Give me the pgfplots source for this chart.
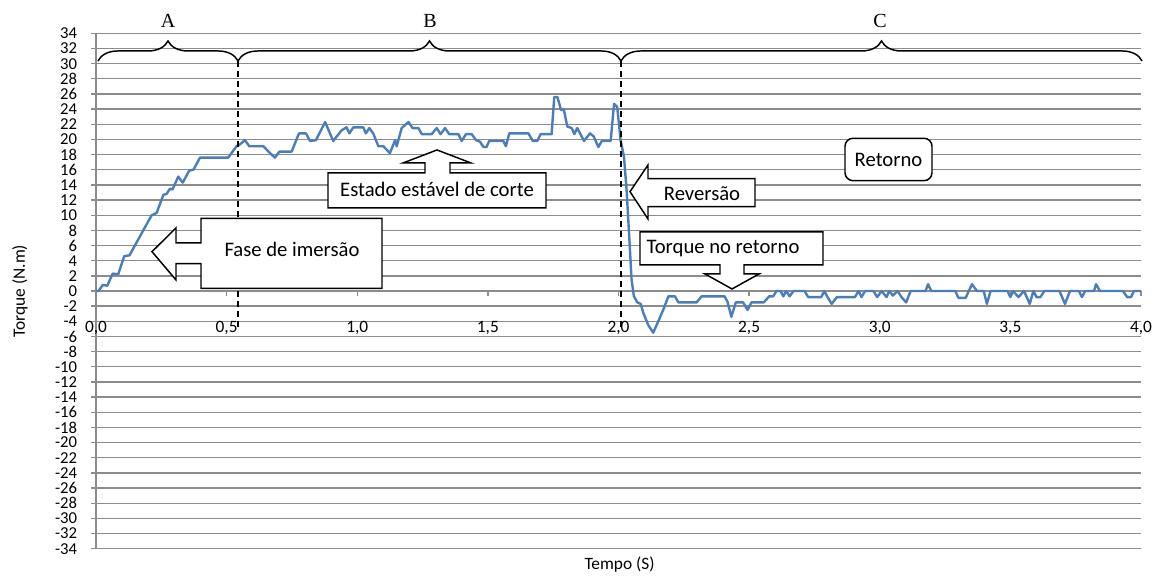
\documentclass[border=0pt]{standalone}
\usepackage{fontspec}
\setmainfont{Carlito}
\newfontfamily\timesf{Liberation Serif}
\usepackage{pgfplots}
\pgfplotsset{compat=1.18}
\usetikzlibrary{decorations.pathreplacing}
\definecolor{gridgray}{HTML}{8C8C8C}
\definecolor{excelblue}{HTML}{4A7EBB}

\pgfplotstableread{
t v
0.000 0.0
0.010 0.0
0.026 0.8
0.043 0.7
0.064 2.3
0.085 2.2
0.108 4.6
0.128 4.7
0.213 10.0
0.232 10.3
0.258 12.7
0.270 12.8
0.283 13.5
0.293 13.4
0.315 15.1
0.332 14.3
0.357 15.9
0.373 16.0
0.398 17.6
0.506 17.6
0.538 19.1
0.549 19.3
0.570 19.9
0.587 19.1
0.641 19.1
0.660 18.4
0.685 17.6
0.702 18.4
0.749 18.4
0.777 20.8
0.804 20.8
0.819 19.8
0.842 19.9
0.877 22.3
0.908 19.8
0.940 21.2
0.959 21.6
0.970 20.8
0.985 21.6
1.023 21.6
1.033 20.8
1.046 21.5
1.061 20.8
1.081 19.1
1.100 19.1
1.125 18.2
1.145 19.9
1.151 19.1
1.170 21.5
1.196 22.3
1.212 21.5
1.234 21.5
1.247 20.7
1.285 20.7
1.304 21.5
1.319 20.7
1.336 21.5
1.352 20.7
1.387 20.7
1.400 19.8
1.416 20.7
1.438 20.7
1.455 19.9
1.470 19.7
1.483 19.0
1.495 19.0
1.505 19.8
1.559 19.8
1.569 19.1
1.582 20.8
1.655 20.8
1.672 19.8
1.689 19.8
1.702 20.7
1.744 20.7
1.754 25.6
1.766 25.6
1.780 23.9
1.791 23.9
1.804 21.7
1.821 21.5
1.831 20.7
1.842 21.5
1.868 19.8
1.891 20.8
1.905 20.4
1.923 19.0
1.936 19.8
1.970 19.8
1.983 24.7
1.995 24.3
2.008 19.9
2.021 17.7
2.031 13.3
2.041 7.2
2.050 1.5
2.059 -0.7
2.072 -1.5
2.085 -1.7
2.095 -2.9
2.114 -4.5
2.133 -5.5
2.156 -3.7
2.171 -2.5
2.191 -0.7
2.216 -0.7
2.229 -1.5
2.299 -1.5
2.318 -0.7
2.406 -0.7
2.417 -1.4
2.432 -3.4
2.449 -1.5
2.477 -1.5
2.494 -2.5
2.509 -1.5
2.556 -1.5
2.577 -0.7
2.592 -0.7
2.605 0
2.620 0
2.631 -0.7
2.642 0
2.655 -0.7
2.670 0
2.712 0
2.726 -0.8
2.776 -0.8
2.788 0
2.800 -0.8
2.816 -1.7
2.836 -0.8
2.905 -0.8
2.919 0
2.930 -0.8
2.944 0
2.976 0
2.990 -0.8
3.007 0
3.026 -0.8
3.036 0
3.050 -0.6
3.068 0
3.083 -0.8
3.101 -1.5
3.118 0
3.175 0
3.185 0.9
3.197 0
3.289 0
3.301 -0.9
3.329 -0.9
3.353 0.9
3.372 0
3.398 0
3.410 -1.7
3.424 0
3.489 0
3.500 -0.8
3.510 0
3.531 -0.8
3.552 0
3.574 -1.7
3.588 0
3.600 -0.8
3.615 -0.8
3.630 0
3.688 0
3.709 -1.7
3.728 0
3.762 0
3.774 -0.8
3.786 0
3.820 0
3.828 0.9
3.843 0
3.931 0
3.947 -0.8
3.962 -0.8
3.973 0
4.000 0
}\torquedata

\begin{document}
\begin{tikzpicture}
\useasboundingbox (-72pt,-20.5pt) rectangle (799.5pt,411.5pt);
\begin{axis}[
  scale only axis, width=783.75pt, height=386.5pt,
  xmin=0, xmax=4, ymin=-34, ymax=34,
  axis x line=middle, axis y line=left,
  axis line style={-, draw=gridgray, line width=1pt},
  hide obscured x ticks=false,
  xtick={0,0.5,...,4}, ytick={-34,-32,...,34},
  ymajorgrids, major grid style={draw=gridgray, line width=1pt},
  tick align=outside, major tick length=4pt,
  tick style={draw=gridgray, line width=1pt},
  /pgf/number format/assume math mode=true,
  xticklabel={\pgfmathprintnumber[fixed,fixed zerofill,precision=1,use comma]{\tick}},
  yticklabel={\pgfmathprintnumber[fixed,precision=0]{\tick}},
  ticklabel style={inner sep=0pt},
  xticklabel style={font=\fontsize{13}{15}\selectfont, anchor=center, yshift=-24pt},
  yticklabel style={font=\fontsize{12.5}{13}\selectfont, anchor=east, xshift=-10pt},
  every axis x label/.style={at={(axis description cs:0.501,-0.0316)}, anchor=center},
  every axis y label/.style={at={(axis description cs:-0.0727,0.5)}, anchor=center, rotate=90},
  label style={font=\fontsize{13}{15}\selectfont},
  xlabel={Tempo (S)}, ylabel={Torque (N.m)},
  clip=false,
]
\addplot[excelblue, line width=1.8pt, line join=round, no marks] table[x=t, y=v] {\torquedata};
\end{axis}
\begin{scope}[x=0.75pt, y=-0.75pt, shift={(-72pt,411.525pt)}, line width=1.1pt]
  % dashed separators
  \draw[dash pattern=on 4.5pt off 3pt] (238,61) -- (238,330);
  \draw[dash pattern=on 4.5pt off 3pt] (621,61) -- (621,330);
  % braces
  \draw[decorate, decoration={brace, amplitude=15pt}] (98,61) -- (238,61);
  \draw[decorate, decoration={brace, amplitude=15pt}] (238,61) -- (621,61);
  \draw[decorate, decoration={brace, amplitude=15pt}] (621,61) -- (1142,61);
  \node[font=\timesf\fontsize{15}{17}\selectfont] at (168,21) {A};
  \node[font=\timesf\fontsize{15}{17}\selectfont] at (430,21) {B};
  \node[font=\timesf\fontsize{15}{17}\selectfont] at (880,21) {C};
  % callouts
  \draw[fill=white, line join=miter] (382,218.3) -- (201,218.3) -- (201,243) -- (176,243) -- (176,228) -- (152,251.7) -- (176,280) -- (176,263.7) -- (201,263.7) -- (201,288.3) -- (382,288.3) -- cycle;
  \node[font=\fontsize{15.5}{18}\selectfont] at (292,249) {Fase de imersão};
  \draw[fill=white, line join=miter] (328,173) -- (425,173) -- (425,163) -- (403,163) -- (437,150) -- (471,163) -- (450,163) -- (450,173) -- (546,173) -- (546,208) -- (328,208) -- cycle;
  \node[font=\fontsize{15.5}{18}\selectfont] at (437,189) {Estado estável de corte};
  \draw[fill=white, line join=miter] (755,178.7) -- (648,178.7) -- (648,165) -- (630,191.7) -- (648,219) -- (648,206.7) -- (755,206.7) -- cycle;
  \node[font=\fontsize{15.5}{18}\selectfont] at (702,194) {Reversão};
  \draw[fill=white, line join=miter] (640,232) -- (823,232) -- (823,265) -- (744,265) -- (744,274) -- (759,274) -- (732,289) -- (705,274) -- (720,274) -- (720,265) -- (640,265) -- cycle;
  \node[font=\fontsize{15.5}{18}\selectfont] at (723,249) {Torque no retorno};
  \draw[fill=white, rounded corners=6pt] (845,138.3) rectangle (932,180.7);
  \node[font=\fontsize{15.5}{18}\selectfont] at (888.5,159.5) {Retorno};
\end{scope}
\end{tikzpicture}
\end{document}
